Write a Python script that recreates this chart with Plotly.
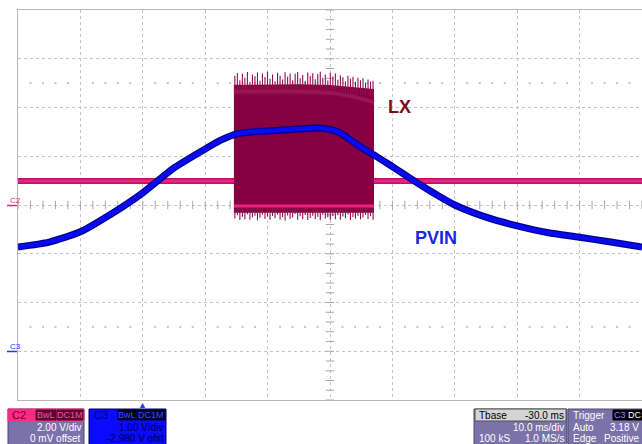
import numpy as np
import plotly.graph_objects as go

# ---------------- data ----------------
# C3 : PVIN (1 V/div, offset -2.980 V -> screen centre = 2.98 V)
pvin_t_ms = [-20, -15, -10, -5, 0, 5, 10, 12.5, 15, 17.5, 20, 25, 28, 30, 31.6, 33.2,
             34.8, 37, 39.6, 42, 44.4, 47.6, 50, 55, 60, 65, 70, 75, 80]
pvin_v = [2.12, 2.22, 2.43, 2.80, 3.23, 3.74, 4.13, 4.31, 4.44, 4.48, 4.50, 4.54, 4.56,
          4.53, 4.46, 4.32, 4.18, 4.01, 3.80, 3.60, 3.40, 3.15, 2.98, 2.73, 2.55, 2.41,
          2.32, 2.22, 2.12]

# C2 : LX (2 V/div, 0 offset)
lx_idle_t_ms = [-20, 80]
lx_idle_v = [0.98, 0.98]
lx_env_t_ms = [14.6, 20, 25, 30, 33, 35, 37.05]
lx_top_v = [4.93, 4.95, 4.95, 4.92, 4.86, 4.80, 4.76]
lx_bot_v = [-0.32, -0.32, -0.33, -0.32, -0.33, -0.32, -0.32]
lx_ring_v = [4.66, 4.66, 4.66, 4.60, 4.48, 4.36, 4.22]
lx_clamp_v = [-0.04, -0.04, -0.05, -0.04, -0.04, -0.05, -0.04]
lx_spike_up_v = [5.30, 5.42, 5.12, 5.38, 5.22, 5.46, 5.05, 5.35, 5.28, 5.44, 5.10, 5.40,
                 5.25, 5.47, 5.18, 5.36, 5.08, 5.43, 5.30, 5.15, 5.45, 5.26, 5.40, 5.12,
                 5.38, 5.46, 5.20, 5.33, 5.10, 5.44, 5.29, 5.41, 5.16, 5.37, 5.47, 5.22,
                 5.35, 5.11, 5.43, 5.27, 5.39, 5.14, 5.32, 5.24, 5.08, 5.30, 5.18, 5.26,
                 5.05, 5.22, 5.12, 5.20, 5.02, 5.15, 5.06, 5.10]
lx_spike_dn_v = [-0.55, -0.42, -0.62, -0.48, -0.58, -0.38, -0.60, -0.50, -0.44, -0.63,
                 -0.52, -0.40, -0.57, -0.47, -0.61, -0.45, -0.54, -0.39, -0.59, -0.49,
                 -0.64, -0.43, -0.56, -0.51, -0.37, -0.60, -0.46, -0.58, -0.41, -0.62,
                 -0.53, -0.44, -0.57, -0.48, -0.63, -0.40, -0.55, -0.50, -0.61, -0.45,
                 -0.58, -0.42, -0.60, -0.47, -0.54, -0.39, -0.62, -0.49, -0.56, -0.44,
                 -0.59, -0.51, -0.41, -0.57, -0.46, -0.60]

C3_CENTER_V = 2.98
TRIG_T_MS = 0

# ---------------- geometry helpers (plot area 18..642 x 10..400 px) ----------------
PL, PT, PW, PH = 18, 10, 624, 390
def px(x):
    return (x - PL) / PW
def py(y):
    return (PT + PH - y) / PH

fig = go.Figure()

# grid decorations: centre-line ticks and half-division dots
tick_t = np.arange(-20, 80.01, 2)
fig.add_trace(go.Scatter(x=tick_t, y=[0] * len(tick_t), mode="markers", hoverinfo="skip",
                         marker=dict(symbol="line-ns", size=6, line=dict(width=1, color="#a8a8a8"))))
tick_v = np.arange(-8, 8.01, 0.4)
fig.add_trace(go.Scatter(x=[30] * len(tick_v), y=tick_v, mode="markers", hoverinfo="skip",
                         marker=dict(symbol="line-ew", size=6, line=dict(width=1, color="#a8a8a8"))))
dot_t = [t for t in tick_t if abs(t % 10) > 1e-6]
for lvl in (5, -5):
    fig.add_trace(go.Scatter(x=dot_t, y=[lvl] * len(dot_t), mode="markers", hoverinfo="skip",
                             marker=dict(symbol="square", size=2, color="#c4c4c4")))

# LX idle level
fig.add_trace(go.Scatter(x=lx_idle_t_ms, y=lx_idle_v, mode="lines",
                         line=dict(color="#c0106a", width=6)))
fig.add_trace(go.Scatter(x=lx_idle_t_ms, y=lx_idle_v, mode="lines",
                         line=dict(color="#f0207f", width=3)))

# LX switching burst
fig.add_trace(go.Scatter(x=lx_env_t_ms, y=lx_bot_v, mode="lines", line=dict(width=0, color="#870041")))
fig.add_trace(go.Scatter(x=lx_env_t_ms, y=lx_top_v, mode="lines", line=dict(width=0, color="#870041"),
                         fill="tonexty", fillcolor="#870041"))
sp_t = np.linspace(lx_env_t_ms[0] + 0.15, lx_env_t_ms[-1] - 0.15, len(lx_spike_up_v))
xs, ys = [], []
for t, v in zip(sp_t, lx_spike_up_v):
    xs += [t, t, None]
    ys += [4.5, v, None]
fig.add_trace(go.Scatter(x=xs, y=ys, mode="lines", line=dict(color="#8e1050", width=1.1)))
sp_t2 = np.linspace(lx_env_t_ms[0] + 0.15, lx_env_t_ms[-1] - 0.15, len(lx_spike_dn_v))
xs, ys = [], []
for t, v in zip(sp_t2, lx_spike_dn_v):
    xs += [t, t, None]
    ys += [0, v, None]
fig.add_trace(go.Scatter(x=xs, y=ys, mode="lines", line=dict(color="#8e1050", width=1.1)))
fig.add_trace(go.Scatter(x=lx_env_t_ms, y=lx_ring_v, mode="lines",
                         line=dict(color="#961552", width=4, shape="spline")))
fig.add_trace(go.Scatter(x=lx_env_t_ms, y=lx_clamp_v, mode="lines",
                         line=dict(color="#f0207f", width=3)))

# PVIN
fig.add_trace(go.Scatter(x=pvin_t_ms, y=pvin_v, yaxis="y2", mode="lines",
                         line=dict(color="#00008c", width=7, shape="spline", smoothing=0.6)))
fig.add_trace(go.Scatter(x=pvin_t_ms, y=pvin_v, yaxis="y2", mode="lines",
                         line=dict(color="#0a0af0", width=4.5, shape="spline", smoothing=0.6)))

FONT = "Liberation Sans, Arial, sans-serif"
shapes = []
ann = []

def rect(x0, y0, x1, y1, fill, line="#4a4a70", lw=1):
    shapes.append(dict(type="rect", xref="paper", yref="paper", x0=px(x0), x1=px(x1),
                       y0=py(y1), y1=py(y0), fillcolor=fill, line=dict(color=line, width=lw),
                       layer="above"))

def text(x, y, s, color, anchor="left", size=10, bold=False):
    ann.append(dict(xref="paper", yref="paper", x=px(x), y=py(y), text=("<b>%s</b>" % s) if bold else s,
                    showarrow=False, xanchor=anchor, yanchor="middle",
                    font=dict(family=FONT, size=size, color=color)))

# channel ground markers on the left
text(8, 200, "C2", "#e0207a", size=8)
shapes.append(dict(type="line", xref="paper", yref="paper", x0=px(7), x1=px(17), y0=py(205.5), y1=py(205.5),
                   line=dict(color="#e0207a", width=1.5)))
text(8, 346, "C3", "#2030ff", size=8)
shapes.append(dict(type="line", xref="paper", yref="paper", x0=px(7), x1=px(17), y0=py(351.5), y1=py(351.5),
                   line=dict(color="#2030ff", width=1.5)))

# trace labels
ann.append(dict(x=41.2, y=4.02, xref="x", yref="y", text="<b>LX</b>", showarrow=False,
                font=dict(family=FONT, size=18, color="#7d0a22")))
ann.append(dict(x=47.0, y=-1.35, xref="x", yref="y", text="<b>PVIN</b>", showarrow=False,
                font=dict(family=FONT, size=18, color="#1428e6")))

# trigger position marker
ann.append(dict(x=TRIG_T_MS, y=py(404.5), xref="x", yref="paper", text="▲", showarrow=False,
                yanchor="middle", font=dict(family=FONT, size=9, color="#1a40ff")))

# --- C2 panel
rect(8, 409, 84, 446, "#7a72a8")
rect(8, 409, 84, 421, "#ff2a85", line="#ff2a85")
text(10, 415, "C2", "#6a0028", size=11)
rect(36, 410, 56, 420, "#5a0a30", line="#5a0a30")
text(46, 415, "BwL", "#ff4aa0", anchor="center", size=9)
rect(57, 410, 83, 420, "#5a0a30", line="#5a0a30")
text(70, 415, "DC1M", "#ff4aa0", anchor="center", size=9)
text(83, 427, "2.00 V/div", "white", anchor="right")
text(83, 438, "0 mV offset", "white", anchor="right")

# --- C3 panel
rect(89, 409, 166, 446, "#0a0aff", line="#00006a")
text(92, 415, "C3", "#00007a", size=11)
rect(118, 410, 136, 420, "#00002a", line="#00002a")
text(127, 415, "BwL", "#3050ff", anchor="center", size=9)
rect(137, 410, 165, 420, "#00002a", line="#00002a")
text(151, 415, "DC1M", "#3050ff", anchor="center", size=9)
text(165, 427, "1.00 V/div", "#00004a", anchor="right")
text(166, 438, "-2.980 V ofst", "#00004a", anchor="right")

# --- Tbase panel
rect(474, 409, 567, 446, "#7a72a8")
rect(475, 409, 566, 421, "#d4d4d4", line="#505050")
text(477, 415, "Tbase", "black")
text(566, 415, "-30.0 ms", "black", anchor="right")
text(566, 427, "10.0 ms/div", "white", anchor="right")
text(477, 438, "100 kS", "white")
text(566, 438, "1.0 MS/s", "white", anchor="right")

# --- Trigger panel
rect(568, 409, 646, 446, "#7a72a8")
text(571, 415, "Trigger", "white")
rect(613, 410, 627, 420, "black", line="black")
text(620, 415, "C3", "#9090ff", anchor="center", size=9)
rect(627, 410, 643, 420, "black", line="black")
text(635, 415, "DC", "white", anchor="center", size=9)
text(571, 427, "Auto", "white")
text(641, 427, "3.18 V", "white", anchor="right")
text(571, 438, "Edge", "white")
text(641, 438, "Positive", "white", anchor="right")

fig.update_layout(
    width=642, height=444,
    margin=dict(l=PL, r=0, t=PT, b=444 - PT - PH, pad=0),
    paper_bgcolor="white", plot_bgcolor="white", showlegend=False,
    xaxis=dict(range=[-20, 80], dtick=10, tick0=0, showgrid=True, gridcolor="#c4c4c4",
               griddash="dot", gridwidth=1, showticklabels=False, ticks="", zeroline=False,
               showline=True, linecolor="#b8b8b8", linewidth=1, mirror=True, fixedrange=True),
    yaxis=dict(range=[-8, 8], dtick=2, tick0=0, showgrid=True, gridcolor="#c4c4c4",
               griddash="dot", gridwidth=1, showticklabels=False, ticks="", zeroline=False,
               showline=True, linecolor="#b8b8b8", linewidth=1, mirror=True, fixedrange=True),
    yaxis2=dict(range=[C3_CENTER_V - 4, C3_CENTER_V + 4], overlaying="y", visible=False,
                fixedrange=True),
    shapes=shapes, annotations=ann,
)

fig.write_html("out.html", config={"displayModeBar": False},
               post_script="document.body.style.margin='0px';document.body.style.overflow='hidden';")
